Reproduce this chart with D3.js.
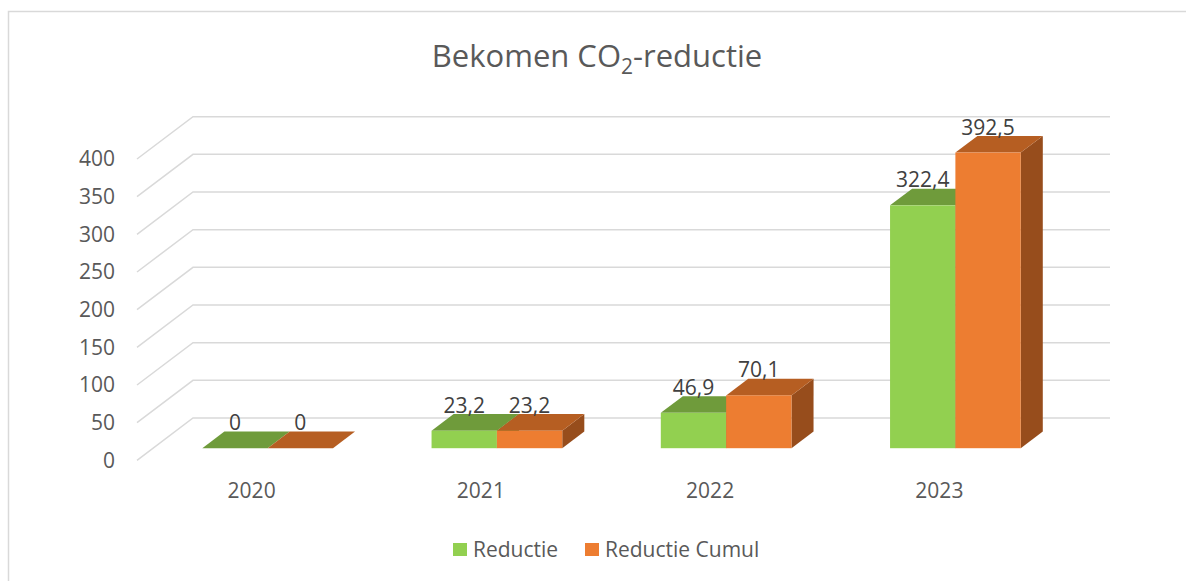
<!DOCTYPE html>
<html>
<head>
<meta charset="utf-8">
<style>
       body {
              margin: 0;
              background: #fff;
              font-family: "Open Sans", "Noto Sans", sans-serif;
       }
       svg {
              display: block;
       }
       .axis-label {
              fill: #595959;
              font-size: 21px;
       }
       .data-label {
              fill: #404040;
              font-size: 21px;
              text-anchor: middle;
       }
       .title {
              fill: #595959;
              font-size: 31px;
              text-anchor: middle;
       }
</style>
</head>
<body>
<script src="https://cdn.jsdelivr.net/npm/d3@7"></script>
<script>

     var years = ["2020", "2021", "2022", "2023"],
         seriesNames = ["Reductie", "Reductie Cumul"],
         reductie = [0, 23.2, 46.9, 322.4],
         reductieCumul = [0, 23.2, 70.1, 392.5],
         yTicks = [0, 50, 100, 150, 200, 250, 300, 350, 400];

     var seriesValues = [reductie, reductieCumul];

     var width = 1186,
         height = 581,
         wallLeft = 193,
         wallRight = 1110,
         depthX = -56,      // back wall -> front edge of the floor
         depthY = 42.3,
         barBack = 0.32,    // depth fractions of the bar prisms
         barFront = 0.714;

     var colors = [
         {front: "#92d050", top: "#6f9b3b", side: "#5f8a32"},
         {front: "#ed7d31", top: "#b65e22", side: "#974d1c"}
     ];

     var svg = d3.select("body").append("svg")
         .attr("width", width)
         .attr("height", height);

     // chart frame
     svg.append("rect")
         .attr("x", 8.5)
         .attr("y", 11.5)
         .attr("width", 1300)
         .attr("height", 700)
         .attr("fill", "none")
         .attr("stroke", "#d9d9d9")
         .attr("stroke-width", 1.5);

     // title with subscript
     var title = svg.append("text")
         .attr("class", "title")
         .attr("x", 597)
         .attr("y", 67);
     title.append("tspan").text("Bekomen CO");
     title.append("tspan").text("2").attr("dy", 7).style("font-size", "21px");
     title.append("tspan").text("-reductie").attr("dy", -7);

     var y = d3.scaleLinear()
         .domain([0, 400])
         .range([418, 116.7]);

     var x = d3.scaleBand()
         .domain(years)
         .range([wallLeft, wallRight])
         .paddingInner(0.43)
         .paddingOuter(0.215);

     var xs = d3.scaleBand()
         .domain(seriesNames)
         .range([0, x.bandwidth()]);

     // gridlines: slanted floor part + back wall part
     var grid = svg.append("g").attr("class", "grid");
     grid.selectAll("polyline")
         .data(yTicks)
       .enter().append("polyline")
         .attr("fill", "none")
         .attr("stroke", "#d9d9d9")
         .attr("stroke-width", 1.5)
         .attr("points", function(d) {
              return [[wallLeft + depthX, y(d) + depthY], [wallLeft, y(d)], [wallRight, y(d)]].join(" ");
         });

     // y axis labels at the front of the floor
     svg.append("g").selectAll("text")
         .data(yTicks)
       .enter().append("text")
         .attr("class", "axis-label")
         .attr("text-anchor", "end")
         .attr("x", 115)
         .attr("y", function(d) { return y(d) + depthY; })
         .attr("dy", "0.35em")
         .text(function(d) { return d; });

     // category labels
     svg.append("g").selectAll("text")
         .data(years)
       .enter().append("text")
         .attr("class", "axis-label")
         .attr("text-anchor", "middle")
         .attr("x", function(d) { return x(d) + x.bandwidth() / 2 + depthX; })
         .attr("y", 491)
         .attr("dy", "0.35em")
         .text(function(d) { return d; });

     // 3D bars
     var bars = [];
     years.forEach(function(yr, i) {
          seriesNames.forEach(function(s, j) {
               bars.push({year: yr, series: s, idx: j, value: seriesValues[j][i]});
          });
     });

     var fx = depthX * barFront, fy = depthY * barFront,
         bx = depthX * barBack, by = depthY * barBack;

     var barG = svg.append("g").selectAll("g")
         .data(bars)
       .enter().append("g");

     function pts(arr) { return arr.map(function(p) { return p.join(","); }).join(" "); }

     barG.each(function(d) {
          var g = d3.select(this),
              x0 = x(d.year) + xs(d.series),
              x1 = x0 + xs.bandwidth(),
              yTop = y(d.value),
              yBot = y(0),
              c = colors[d.idx];
          // right side
          if (d.value > 0) {
               g.append("polygon")
                   .attr("fill", c.side)
                   .attr("points", pts([[x1 + fx, yTop + fy], [x1 + bx, yTop + by], [x1 + bx, yBot + by], [x1 + fx, yBot + fy]]));
          }
          // top
          g.append("polygon")
              .attr("fill", c.top)
              .attr("points", pts([[x0 + fx, yTop + fy], [x0 + bx, yTop + by], [x1 + bx, yTop + by], [x1 + fx, yTop + fy]]));
          // front
          if (d.value > 0) {
               g.append("rect")
                   .attr("fill", c.front)
                   .attr("x", x0 + fx)
                   .attr("y", yTop + fy)
                   .attr("width", x1 - x0)
                   .attr("height", yBot - yTop);
          }
     });

     // data labels
     svg.append("g").selectAll("text")
         .data(bars)
       .enter().append("text")
         .attr("class", "data-label")
         .attr("x", function(d) { return x(d.year) + xs(d.series) + xs.bandwidth() / 2 + fx; })
         .attr("y", function(d) { return y(d.value) + fy - 18; })
         .text(function(d) { return String(d.value).replace(".", ","); });

     // legend
     var legend = svg.append("g").selectAll("g")
         .data(seriesNames)
       .enter().append("g")
         .attr("transform", function(d, i) { return "translate(" + [453, 585][i] + ",543)"; });
     legend.append("rect")
         .attr("width", 14)
         .attr("height", 13)
         .attr("fill", function(d, i) { return colors[i].front; });
     legend.append("text")
         .attr("class", "axis-label")
         .attr("x", 20)
         .attr("y", 6.5)
         .attr("dy", "0.35em")
         .text(function(d) { return d; });

</script>
</body>
</html>
